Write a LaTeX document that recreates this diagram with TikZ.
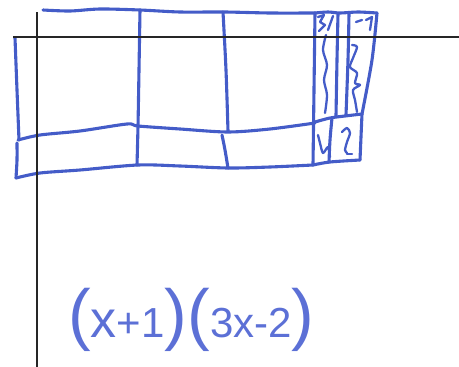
\documentclass[tikz,border=0pt]{standalone}
\usepackage{fontspec}
\setmainfont{Liberation Sans}
\definecolor{pen}{RGB}{68,92,200}
\definecolor{ink}{RGB}{92,112,214}
\begin{document}
\begin{tikzpicture}[x=1pt,y=-1pt,
  pen/.style={draw=pen, line width=3.1pt, line cap=round, line join=round},
  scrib/.style={draw=pen, line width=2.3pt, line cap=round, line join=round},
  axis/.style={draw=black!85, line width=1.8pt}]
\useasboundingbox (0,0) rectangle (459,367);
% big tiles: top row
\draw[pen] plot[smooth] coordinates {(43,10) (70,11) (100,9) (140,10) (180,12) (225,12) (270,13) (315,13)};
\draw[pen] plot[smooth] coordinates {(15,38) (17,90) (19,140)};
\draw[pen] plot[smooth] coordinates {(18,140) (40,135) (80,131) (127,124) (138,126) (180,129) (228,132) (270,129) (315,123)};
% bottom row
\draw[pen] plot[smooth] coordinates {(17,143) (17,160) (16,178)};
\draw[pen] plot[smooth] coordinates {(16,178) (40,173) (80,170) (138,165) (180,166) (228,168) (270,167) (313,165)};
% verticals
\draw[pen] plot[smooth] coordinates {(140,10) (139,70) (138,126) (137,165)};
\draw[pen] plot[smooth] coordinates {(223,12) (226,70) (228,131)};
\draw[pen] plot[smooth] coordinates {(222,135) (225,150) (228,168)};
\draw[pen] plot[smooth] coordinates {(315,13) (314,90) (313,165)};
% narrow strips
\draw[pen] plot[smooth] coordinates {(315,13) (328,12) (340,13) (358,12) (377,13)};
\draw[pen] plot[smooth] coordinates {(338,14) (337,60) (336,116)};
\draw[pen] plot[smooth] coordinates {(349,14) (348,60) (346,115)};
\draw[pen] plot[smooth] coordinates {(377,13) (372,60) (362,114)};
\draw[scrib] plot[smooth] coordinates {(326,35) (323,50) (327,65) (324,80) (327,95) (325,113)};
% small squares
\draw[pen] plot[smooth] coordinates {(315,122) (330,118) (345,116) (362,114)};
\draw[pen] plot[smooth] coordinates {(362,114) (361,137) (360,160)};
\draw[pen] plot[smooth] coordinates {(313,165) (330,162) (360,160)};
\draw[pen] plot[smooth] coordinates {(332,118) (330,140) (329,162)};
% scribbled marks
\draw[scrib] (318,17) -- (324,15) -- (320,22) -- (325,25) -- (319,31);
\draw[scrib] (328,30) -- (333,16);
\draw[scrib] (356,22) -- (362,20);
\draw[scrib] (366,20) -- (372,17) -- (370,30);
\draw[scrib] plot[smooth] coordinates {(352,45) (357,47) (353,58) (350,67) (357,73) (355,83) (360,85) (353,90) (355,100) (357,112)};
\draw[scrib] plot[smooth] coordinates {(318,135) (320,143) (323,153) (328,147) (330,157)};
\draw[scrib] plot[smooth] coordinates {(342,132) (347,128) (350,133) (347,142) (345,150) (347,153)};
\draw[scrib] (347,154) -- (352,154);
% axes
\draw[axis] (13,37) -- (459,37);
\draw[axis] (37,12) -- (37,367);
% expression
\node[text=ink, anchor=base west, inner sep=0pt, font=\fontsize{42}{44}\selectfont] (expr) at (68,337)
  {{\fontsize{68}{68}\selectfont(}{\fontsize{52}{52}\selectfont x}+1{\fontsize{68}{68}\selectfont)(}3x-2{\fontsize{68}{68}\selectfont)}};
\end{tikzpicture}
\end{document}
